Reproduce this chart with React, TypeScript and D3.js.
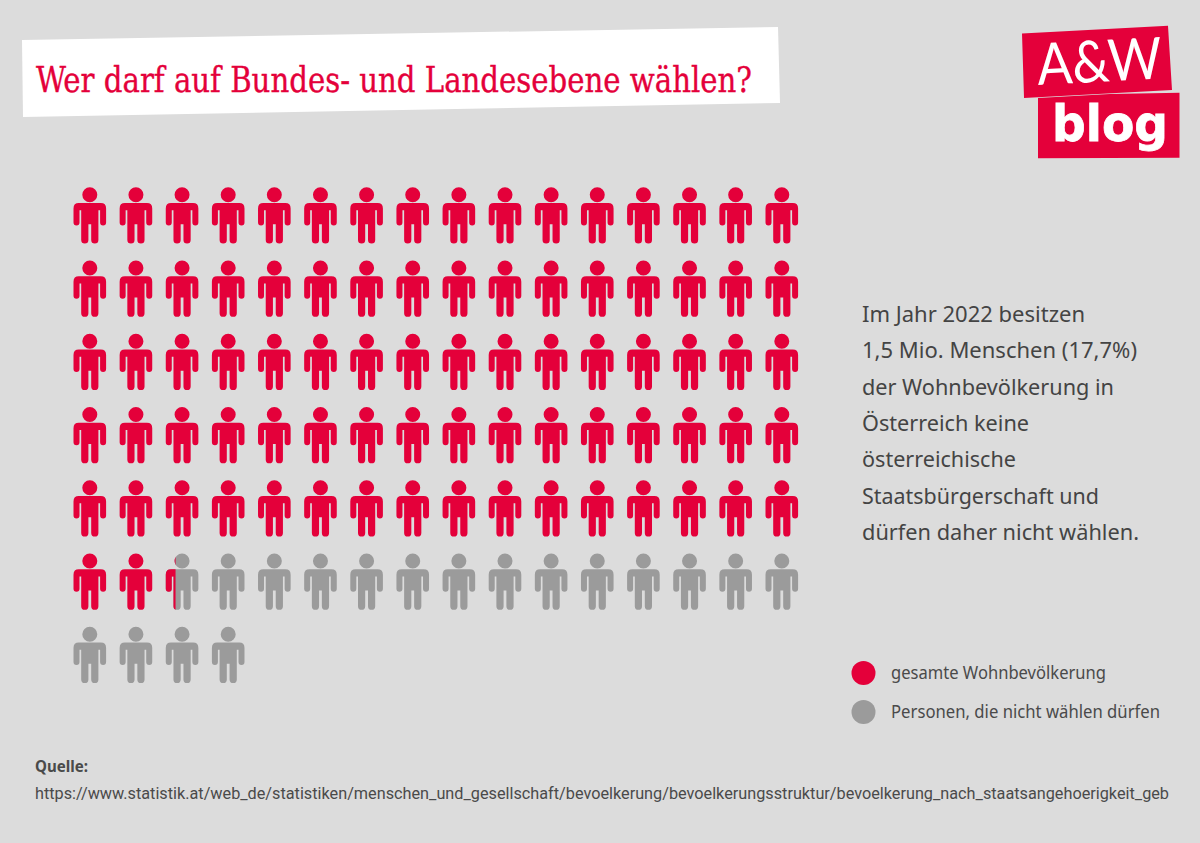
import React, { useEffect } from "react";
import * as d3 from "d3";

const titleText = "Wer darf auf Bundes- und Landesebene wählen?";
const totalPersons = 100;
const eligibleShare = 82.3;
const columnsPerRow = 16;
const rowCount = 7;
const bodyLines = [
  { text: "Im Jahr 2022 besitzen", width: 223 },
  { text: "1,5 Mio. Menschen (17,7%)", width: 275 },
  { text: "der Wohnbevölkerung in", width: 252 },
  { text: "Österreich keine", width: 167 },
  { text: "österreichische", width: 154 },
  { text: "Staatsbürgerschaft und", width: 237 },
  { text: "dürfen daher nicht wählen.", width: 277 },
];
const legendItems = [
  { label: "gesamte Wohnbevölkerung", color: "#e4003a", width: 215 },
  { label: "Personen, die nicht wählen dürfen", color: "#9b9b9b", width: 269 },
];
const sourceLabel = "Quelle:";
const sourceUrl =
  "https://www.statistik.at/web_de/statistiken/menschen_und_gesellschaft/bevoelkerung/bevoelkerungsstruktur/bevoelkerung_nach_staatsangehoerigkeit_geb";

const RED = "#e4003a";
const GREY = "#9b9b9b";
const BODY_FONT = "'Noto Sans', sans-serif";

const personPath =
  "M-11,8.3H11Q16.3,8.3 16.3,13.6V27.8A3,3 0 0 1 10.3,27.8V15.5H8.6V45.2A3.6,3.6 0 0 1 1.4,45.2V29.5H-1.4V45.2A3.6,3.6 0 0 1 -8.6,45.2V15.5H-10.3V27.8A3,3 0 0 1 -16.3,27.8V13.6Q-16.3,8.3 -11,8.3Z" +
  "M-7.5,0A7.5,7.5 0 1 0 7.5,0A7.5,7.5 0 1 0 -7.5,0Z";

export default function App() {
  useEffect(() => {
    document.body.style.margin = "0";
  }, []);
  const x = d3.scaleLinear().domain([0, columnsPerRow - 1]).range([89.8, 781.8]);
  const y = d3.scaleLinear().domain([0, rowCount - 1]).range([194.8, 634.3]);
  const fillScale = d3.scaleLinear().domain([0, 1]).range([-16.3, 16.3]);
  const persons = d3.range(totalPersons).map((i) => ({
    i,
    cx: x(i % columnsPerRow),
    cy: y(Math.floor(i / columnsPerRow)),
    share: Math.max(0, Math.min(1, eligibleShare - i)),
  }));
  return (
    <svg
      width={1200}
      height={843}
      viewBox="0 0 1200 843"
      style={{ position: "absolute", left: 0, top: 0, display: "block" }}
    >
      <rect width={1200} height={843} fill="#dcdcdc" />
      <polygon points="22,40 778,27 780,103 23,117" fill="#ffffff" />
      <text
        x={36}
        y={92}
        fill={RED}
        stroke={RED}
        strokeWidth={0.35}
        fontFamily="'DejaVu Serif Condensed', 'DejaVu Serif', serif"
        fontSize={36}
        textLength={716}
        lengthAdjust="spacingAndGlyphs"
      >
        {titleText}
      </text>

      <polygon points="1022,33.5 1168,25.7 1172,90 1024,98" fill={RED} />
      <polygon points="1038,98 1110,94 1179.5,92.7 1179.5,157.7 1038,158.3" fill={RED} />
      <text
        x={1038}
        y={85}
        transform="rotate(-3 1038 85)"
        fill="#fff"
        fontFamily="Lato, sans-serif"
        fontWeight={400}
        fontSize={58}
        textLength={125}
        lengthAdjust="spacingAndGlyphs"
      >
        A&amp;W
      </text>
      <text
        x={1052}
        y={141}
        fill="#fff"
        stroke="#fff"
        strokeWidth={0.8}
        fontFamily="'DejaVu Sans', sans-serif"
        fontWeight={700}
        fontSize={50}
        textLength={116}
        lengthAdjust="spacingAndGlyphs"
      >
        blog
      </text>

      <defs>
        {persons
          .filter((p) => p.share > 0 && p.share < 1)
          .map((p) => (
            <clipPath key={p.i} id={`clip-${p.i}`}>
              <rect x={-20} y={-10} width={fillScale(p.share) + 20} height={70} />
            </clipPath>
          ))}
      </defs>
      {persons.map((p) => (
        <g key={p.i} transform={`translate(${p.cx},${p.cy})`}>
          <path d={personPath} fill={p.share === 1 ? RED : GREY} />
          {p.share > 0 && p.share < 1 && (
            <path d={personPath} fill={RED} clipPath={`url(#clip-${p.i})`} />
          )}
        </g>
      ))}

      {bodyLines.map((l, i) => (
        <text
          key={l.text}
          x={862}
          y={322 + i * 36.3}
          fill="#444"
          fontFamily={BODY_FONT}
          fontSize={21.5}
          textLength={l.width}
          lengthAdjust="spacingAndGlyphs"
        >
          {l.text}
        </text>
      ))}

      {legendItems.map((l, i) => (
        <g key={l.label}>
          <circle cx={863.5} cy={673 + i * 39} r={12} fill={l.color} />
          <text
            x={891}
            y={679 + i * 39}
            fill="#4a4a4a"
            fontFamily={BODY_FONT}
            fontSize={17.5}
            textLength={l.width}
            lengthAdjust="spacingAndGlyphs"
          >
            {l.label}
          </text>
        </g>
      ))}

      <text
        x={35}
        y={772}
        fill="#4a4a4a"
        fontFamily={BODY_FONT}
        fontWeight={700}
        fontSize={16.5}
        textLength={53}
        lengthAdjust="spacingAndGlyphs"
      >
        {sourceLabel}
      </text>
      <text
        x={35}
        y={799}
        fill="#4a4a4a"
        fontFamily="Roboto, sans-serif"
        fontSize={16}
        textLength={1134}
        lengthAdjust="spacingAndGlyphs"
      >
        {sourceUrl}
      </text>
    </svg>
  );
}
